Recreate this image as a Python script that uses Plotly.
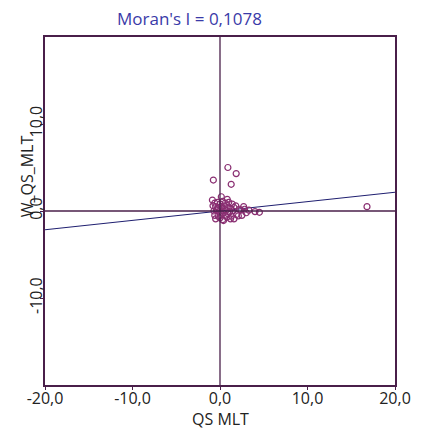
import plotly.graph_objects as go

# data (QS_MLT, W_QS_MLT)
qs_mlt = [16.8, 0.9, 1.85, -0.76, 1.28, 0.15, -0.87, 0.83, 2.7, 3.3, 4.0, 4.5, 2.1,
          -0.6, -0.3, 0.0, 0.3, 0.6, 1.0, 1.4, 1.8, -0.5, -0.2, 0.2, 0.5, 0.8, 1.2, 1.6, 2.2,
          -0.7, -0.4, -0.1, 0.4, 0.7, 1.1, 1.5, 2.4, -0.6, -0.2, 0.1, 0.6, 0.9, 1.3, 1.9,
          -0.5, 0.0, 0.3, 0.8, 1.2, -0.3, 0.5, 2.8, 3.0, 1.6, 2.5, -0.8, 0.4]
w_qs_mlt = [0.5, 5.0, 4.3, 3.56, 3.07, 1.64, 1.26, 1.34, 0.5, 0.1, -0.07, -0.15, -0.57,
            0.9, 1.0, 0.8, 1.1, 0.9, 1.0, 0.8, 0.6, 0.5, 0.4, 0.5, 0.6, 0.4, 0.3, 0.4, 0.2,
            0.0, 0.1, -0.1, 0.0, 0.1, -0.1, 0.0, 0.1, -0.5, -0.6, -0.4, -0.5, -0.3, -0.6, -0.4,
            -0.9, -0.8, -1.0, -0.7, -0.9, 0.2, 0.2, 0.2, -0.2, -0.9, -0.5, 0.6, -1.1]
moran_i = 0.1078
x_line = [-20.0, 20.0]
y_line = [moran_i * v for v in x_line]
x_ticks = [-20, -10, 0, 10, 20]
x_tick_labels = ["-20,0", "-10,0", "0,0", "10,0", "20,0"]
y_ticks = [-10, 0, 10]
y_tick_labels = ["-10,0", "0,0", "10,0"]

frame = "#4a1f4a"
font = "Open Sans, Noto Sans, sans-serif"

fig = go.Figure()
fig.add_trace(go.Scatter(x=x_line, y=y_line, mode="lines",
                         line=dict(color="#1f1f70", width=1.2), hoverinfo="skip"))
fig.add_trace(go.Scatter(x=qs_mlt, y=w_qs_mlt, mode="markers",
                         marker=dict(symbol="circle-open", size=6, color="#8a2f72",
                                     line=dict(width=1.2))))
fig.add_shape(type="line", x0=0, x1=0, y0=-20, y1=20, line=dict(color=frame, width=1.3))
fig.add_shape(type="line", x0=-20, x1=20, y0=0, y1=0, line=dict(color=frame, width=1.3))

axis_common = dict(showgrid=False, zeroline=False, showline=True, mirror=True,
                   linecolor=frame, linewidth=1.5, ticks="outside", ticklen=3,
                   tickcolor=frame,
                   tickfont=dict(family=font, size=16, color="#222222"))
fig.update_xaxes(range=[-20, 20], tickvals=x_ticks, ticktext=x_tick_labels,
                 ticklabelstandoff=-5, **axis_common)
fig.update_yaxes(range=[-20, 20], tickvals=y_ticks, ticktext=y_tick_labels,
                 tickangle=-90, ticklabelstandoff=-8, **axis_common)

fig.add_annotation(text="Moran's I = 0,1078", xref="paper", yref="paper",
                   x=0.412, y=1.052, xanchor="center", yanchor="middle", showarrow=False,
                   font=dict(family=font, size=17, color="#3a3aa8"))
fig.add_annotation(text="QS MLT", xref="paper", yref="paper",
                   x=0.5, y=-0.097, xanchor="center", yanchor="middle", showarrow=False,
                   font=dict(family=font, size=16, color="#222222"))
fig.add_annotation(text="W_QS_MLT", xref="paper", yref="paper", textangle=-90,
                   x=-0.051, y=0.6, xanchor="center", yanchor="middle", showarrow=False,
                   font=dict(family=font, size=16, color="#222222"))

fig.update_layout(width=423, height=433, margin=dict(l=45, r=26, t=37, b=48),
                  plot_bgcolor="white", paper_bgcolor="white", showlegend=False)
fig.write_html("out.html")
